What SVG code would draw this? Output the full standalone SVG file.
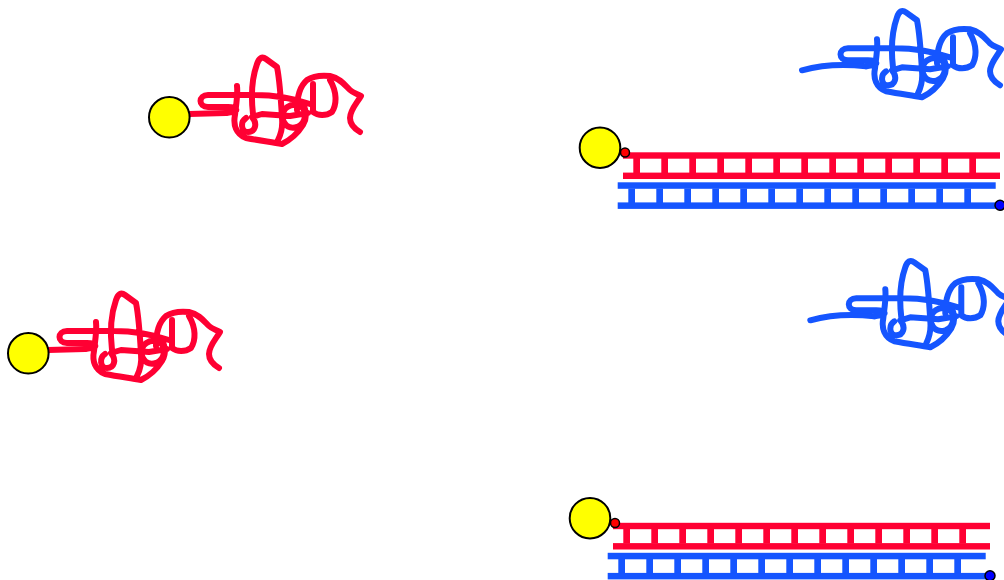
<svg xmlns="http://www.w3.org/2000/svg" xmlns:xlink="http://www.w3.org/1999/xlink" width="1004" height="580" viewBox="0 0 1004 580">
  <style>
    .coil { fill: none; stroke-width: 6; stroke-linecap: round; stroke-linejoin: round; }
    .red { stroke: #ff0033; }
    .blue { stroke: #1555ff; }
    .bead { fill: #ffff00; stroke: #000; stroke-width: 2; }
    .rail-r { fill: #ff0033; }
    .rail-b { fill: #1555ff; }
    .tip { stroke: #000; stroke-width: 1.5; }
  </style>
  <defs>
    <!-- tangled single strand body (without its lead) -->
    <path id="coil" d="M226,113 L232,112 C239,111 237,107 228,107 L208,107 C198,107 198,95 208,95 L255,95 C275,95 295,99 310,104
      M237,86 C238,95 236,105 235,115 C233,125 236,134 246,138 C262,141 272,142 282,144 C290,140 298,133 303,125 C308,117 306,106 300,102
      M246,118 C240,122 241,132 248,132 C255,132 258,124 252,117 L262,114 L290,116 L308,113
      M253,114 C251,97 252,78 257,64 C259,58 262,56 266,59 L277,67 C280,82 281,100 282,118 C283,128 281,134 278,140
      M283,120 C280,108 292,102 300,106 C308,110 306,124 297,127 C290,129 285,126 283,120
      M297,110 C297,98 300,86 307,80 C313,76 320,75 330,76 C340,78 345,85 350,90 C353,93 358,94 361,96 C357,103 350,110 350,118 C350,125 355,129 360,132
      M313,84 L313,112 C318,116 326,116 332,112 C337,104 337,92 330,80"/>
    <!-- double-stranded ladder with bead -->
    <g id="duplex">
      <rect class="rail-r" x="623" y="152.3" width="377" height="6.4"/>
      <rect class="rail-r" x="623" y="172.6" width="377" height="6.4"/>
      <g class="rail-r">
        <rect x="633.3" y="158" width="6.7" height="15"/>
        <rect x="661.3" y="158" width="6.7" height="15"/>
        <rect x="689.3" y="158" width="6.7" height="15"/>
        <rect x="717.3" y="158" width="6.7" height="15"/>
        <rect x="745.3" y="158" width="6.7" height="15"/>
        <rect x="773.3" y="158" width="6.7" height="15"/>
        <rect x="801.3" y="158" width="6.7" height="15"/>
        <rect x="829.3" y="158" width="6.7" height="15"/>
        <rect x="857.3" y="158" width="6.7" height="15"/>
        <rect x="885.3" y="158" width="6.7" height="15"/>
        <rect x="913.3" y="158" width="6.7" height="15"/>
        <rect x="941.3" y="158" width="6.7" height="15"/>
        <rect x="969.3" y="158" width="6.7" height="15"/>
      </g>
      <rect class="rail-b" x="617.7" y="182.3" width="378" height="6.5"/>
      <rect class="rail-b" x="617.7" y="202.4" width="382" height="6.5"/>
      <g class="rail-b">
        <rect x="628.3" y="188.5" width="6.7" height="14.5"/>
        <rect x="656.3" y="188.5" width="6.7" height="14.5"/>
        <rect x="684.3" y="188.5" width="6.7" height="14.5"/>
        <rect x="712.3" y="188.5" width="6.7" height="14.5"/>
        <rect x="740.3" y="188.5" width="6.7" height="14.5"/>
        <rect x="768.3" y="188.5" width="6.7" height="14.5"/>
        <rect x="796.3" y="188.5" width="6.7" height="14.5"/>
        <rect x="824.3" y="188.5" width="6.7" height="14.5"/>
        <rect x="852.3" y="188.5" width="6.7" height="14.5"/>
        <rect x="880.3" y="188.5" width="6.7" height="14.5"/>
        <rect x="908.3" y="188.5" width="6.7" height="14.5"/>
        <rect x="936.3" y="188.5" width="6.7" height="14.5"/>
        <rect x="964.3" y="188.5" width="6.7" height="14.5"/>
      </g>
      <circle class="bead" cx="600" cy="147.7" r="20.3"/>
      <circle class="tip" cx="625" cy="152.5" r="4.5" fill="#ff0000"/>
      <circle class="tip" cx="1000" cy="205.3" r="5" fill="#0000ff"/>
    </g>
  </defs>

  <!-- bead-bound red strands -->
  <g id="bead-strand-upper">
    <path class="coil red" d="M189,114 L226,113"/>
    <use xlink:href="#coil" class="coil red"/>
    <circle class="bead" cx="169.3" cy="117.3" r="20.3"/>
  </g>
  <g id="bead-strand-lower" transform="translate(-141,236)">
    <path class="coil red" d="M189,114 L226,113"/>
    <use xlink:href="#coil" class="coil red"/>
    <circle class="bead" cx="169.3" cy="117.3" r="20.3"/>
  </g>

  <!-- free blue strands -->
  <g id="probe-upper" transform="translate(640,-46.7)">
    <path class="coil blue" d="M162,117 C180,112 200,110 226,113"/>
    <use xlink:href="#coil" class="coil blue"/>
  </g>
  <g id="probe-lower" transform="translate(648.3,203.3)">
    <path class="coil blue" d="M162,117 C180,112 200,110 226,113"/>
    <use xlink:href="#coil" class="coil blue"/>
  </g>

  <!-- hybridised duplexes -->
  <g id="duplex-upper">
    <use xlink:href="#duplex"/>
  </g>
  <g id="duplex-lower" transform="translate(-10,370.5)">
    <use xlink:href="#duplex"/>
  </g>
</svg>
